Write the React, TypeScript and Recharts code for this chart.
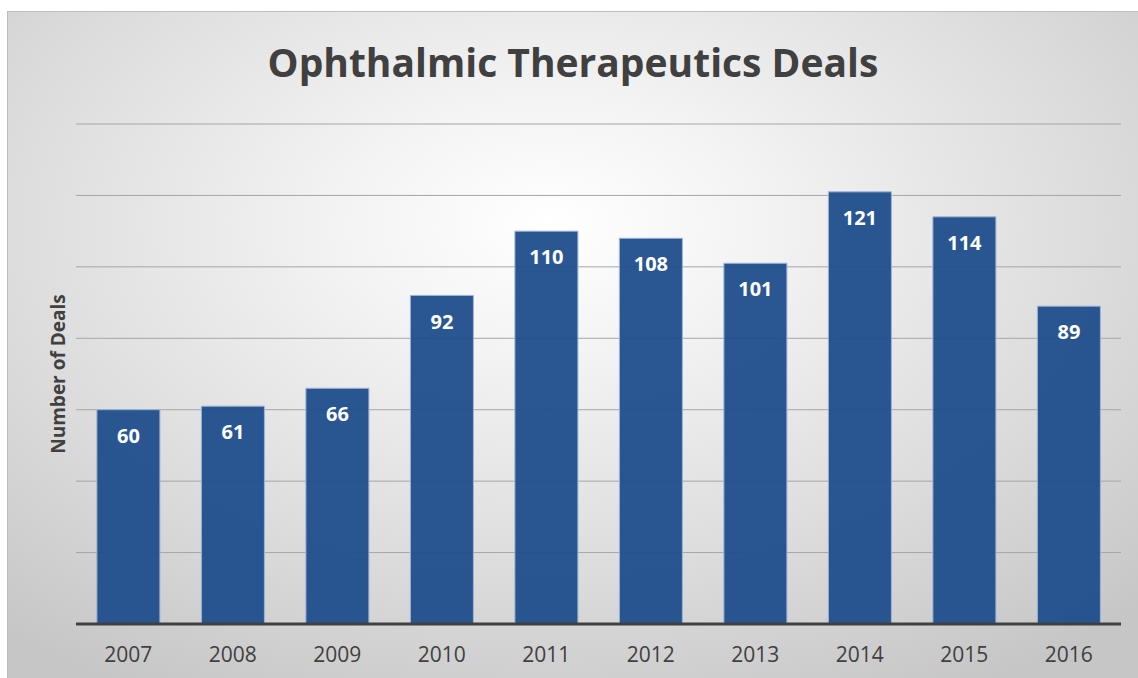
import { BarChart, Bar, XAxis, YAxis, CartesianGrid, LabelList } from 'recharts';

const years = ['2007', '2008', '2009', '2010', '2011', '2012', '2013', '2014', '2015', '2016'];
const deals = [60, 61, 66, 92, 110, 108, 101, 121, 114, 89];
const yTicks = [0, 20, 40, 60, 80, 100, 120, 140];

const data = years.map((year, i) => ({ year, deals: deals[i] }));

const font = '"Open Sans", "Noto Sans", sans-serif';

export default function App() {
  return (
    <div
      style={{
        position: 'absolute',
        left: 7,
        top: 11,
        width: 1131,
        height: 667,
        boxSizing: 'border-box',
        borderTop: '1px solid #bdbdbd',
        borderLeft: '1px solid #bdbdbd',
        background: 'radial-gradient(ellipse 75% 80% at 48% 32%, #ffffff 0%, #f3f3f3 25%, #dcdcdc 65%, #c6c6c6 100%)',
        fontFamily: font,
      }}
    >
      <div
        style={{
          position: 'absolute',
          left: 0,
          width: '100%',
          top: 23,
          textAlign: 'center',
          fontSize: 39,
          fontWeight: 700,
          color: '#404040',
        }}
      >
        Ophthalmic Therapeutics Deals
      </div>
      <div
        style={{
          position: 'absolute',
          left: 50,
          top: 362,
          transform: 'translate(-50%, -50%) rotate(-90deg)',
          whiteSpace: 'nowrap',
          fontSize: 19,
          fontWeight: 700,
          color: '#404040',
        }}
      >
        Number of Deals
      </div>
      <BarChart
        width={1131}
        height={667}
        data={data}
        margin={{ top: 112, right: 18, left: 68, bottom: 0 }}
        barCategoryGap="20%"
        style={{ position: 'absolute', left: 0, top: 0 }}
      >
        <CartesianGrid vertical={false} stroke="#a6a6a6" strokeWidth={1} />
        <YAxis hide domain={[0, 140]} ticks={yTicks} />
        <XAxis
          dataKey="year"
          height={55}
          tickLine={false}
          axisLine={{ stroke: '#404040', strokeWidth: 3 }}
          tickMargin={17}
          tick={{ fill: '#404040', fontSize: 21, fontFamily: font }}
        />
        <Bar
          dataKey="deals"
          fill="#1f4e8c"
          fillOpacity={0.95}
          stroke="#9db3d6"
          strokeWidth={1}
          isAnimationActive={false}
        >
          <LabelList
            dataKey="deals"
            position="insideTop"
            offset={19}
            fill="#ffffff"
            fontSize={20}
            fontWeight={700}
            fontFamily={font}
          />
        </Bar>
      </BarChart>
    </div>
  );
}
